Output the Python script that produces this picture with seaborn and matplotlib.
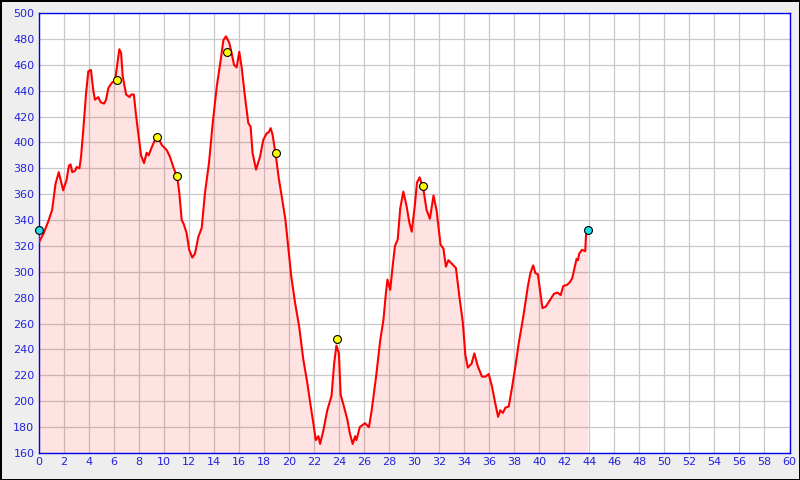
import matplotlib
matplotlib.use('Agg')
import matplotlib.pyplot as plt
import seaborn as sns
import pandas as pd
import numpy as np

# ── Data ──────────────────────────────────────────────────────────────────────
dist = [0.0, 0.05, 0.42, 0.82, 1.09, 1.36, 1.62, 1.97, 2.24, 2.43, 2.56, 2.70, 2.92, 3.05,
        3.27, 3.40, 3.58, 3.80, 3.98, 4.19, 4.38, 4.51, 4.78, 4.97, 5.24, 5.40, 5.58, 5.85,
        6.12, 6.38, 6.46, 6.60, 6.73, 7.00, 7.27, 7.40, 7.62, 7.78, 7.97, 8.19, 8.43, 8.64,
        8.80, 9.04, 9.30, 9.50, 9.85, 10.25, 10.50, 10.77, 11.09, 11.25, 11.44, 11.60, 11.83,
        12.04, 12.29, 12.50, 12.77, 13.04, 13.30, 13.62, 13.92, 14.24, 14.56, 14.77, 14.98,
        15.24, 15.43, 15.62, 15.83, 16.04, 16.23, 16.50, 16.76, 16.95, 17.10, 17.38, 17.70,
        17.96, 18.23, 18.40, 18.55, 18.70, 18.96, 19.20, 19.47, 19.73, 20.00, 20.20, 20.50,
        20.82, 21.16, 21.48, 21.75, 21.96, 22.15, 22.36, 22.50, 22.75, 23.07, 23.41, 23.62,
        23.80, 24.00, 24.14, 24.40, 24.67, 24.88, 25.10, 25.30, 25.40, 25.67, 26.08, 26.40,
        26.62, 26.97, 27.30, 27.56, 27.75, 27.88, 28.10, 28.30, 28.48, 28.70, 28.90, 29.15,
        29.42, 29.63, 29.82, 30.05, 30.24, 30.45, 30.75, 31.00, 31.27, 31.56, 31.81, 32.12,
        32.35, 32.55, 32.75, 33.05, 33.35, 33.65, 33.90, 34.10, 34.30, 34.60, 34.82, 35.10,
        35.43, 35.70, 35.97, 36.24, 36.50, 36.72, 36.90, 37.10, 37.30, 37.57, 37.84, 38.10,
        38.37, 38.64, 38.90, 39.10, 39.30, 39.52, 39.70, 39.90, 40.07, 40.26, 40.52, 40.79,
        41.18, 41.46, 41.72, 41.92, 42.24, 42.45, 42.64, 42.83, 42.99, 43.10, 43.20, 43.42,
        43.68, 43.74, 43.87]
elev = [332, 323, 330, 340, 348, 368, 377, 363, 371, 382, 383, 377, 378, 381,
        380, 389, 410, 438, 455, 456, 440, 433, 435, 431, 430, 433, 442, 446,
        448, 466, 472, 469, 451, 437, 435, 437, 437, 422, 407, 390, 384, 392,
        390, 396, 402, 405, 398, 394, 389, 381, 373, 361, 340, 337, 330,
        317, 311, 314, 327, 334, 361, 384, 415, 443, 464, 479, 482,
        477, 469, 460, 458, 470, 458, 435, 415, 412, 392, 379, 389,
        402, 407, 408, 411, 406, 390, 372, 356, 340, 315, 296, 276,
        258, 232, 214, 196, 183, 170, 173, 167, 177, 193, 204, 229,
        243, 237, 205, 196, 186, 175, 167, 173, 170, 180, 183, 180,
        193, 219, 247, 263, 283, 294, 286, 305, 320, 325, 349, 362,
        350, 338, 331, 350, 369, 373, 364, 348, 341, 359, 347, 321,
        318, 304, 309, 306, 303, 279, 261, 236, 226, 229, 237, 227,
        219, 219, 221, 211, 198, 188, 193, 191, 195, 196, 211, 227,
        245, 260, 276, 289, 299, 305, 299, 298, 286, 272, 273, 277,
        283, 284, 282, 289, 290, 292, 295, 303, 310, 309, 314, 317,
        316, 328, 332]

# waypoints (yellow) and start / finish (cyan)
wp_x = [6.30, 9.50, 11.09, 15.08, 18.96, 23.86, 30.75]
wp_y = [448, 404, 374, 470, 391.6, 247.8, 366.3]
end_x = [0.0, 43.87]
end_y = [332, 332]

df = pd.DataFrame({'dist': dist, 'elev': elev})

# ── Plot ──────────────────────────────────────────────────────────────────────
sns.set_style('white')
blue = '#2222dd'

fig = plt.figure(figsize=(8, 4.8), dpi=100, facecolor='#eeeeee',
                 edgecolor='black', linewidth=1.0)
ax = fig.add_axes([38.5 / 800, 27 / 480, 751 / 800, 440 / 480])
ax.set_facecolor('white')

ax.set_xlim(0, 60)
ax.set_ylim(160, 500)
ax.set_xticks(np.arange(0, 61, 2))
ax.set_yticks(np.arange(160, 501, 20))
ax.grid(True, color='#c8c8c8', linewidth=0.9)
ax.set_axisbelow(True)

ax.fill_between(df['dist'], df['elev'], 160, color='red', alpha=0.11,
                linewidth=0, zorder=2)
sns.lineplot(data=df, x='dist', y='elev', color='red', linewidth=1.5,
             sort=False, ax=ax, zorder=3)
sns.scatterplot(x=wp_x, y=wp_y, color='#ffff00', edgecolor='black',
                linewidth=0.8, s=32, ax=ax, zorder=4)
sns.scatterplot(x=end_x, y=end_y, color='#22ddee', edgecolor='black',
                linewidth=0.8, s=32, ax=ax, zorder=4, clip_on=False)

ax.set_xlabel('')
ax.set_ylabel('')
for sp in ax.spines.values():
    sp.set_color('#0000ee')
    sp.set_linewidth(1.0)
ax.tick_params(direction='in', length=4, width=1, color='#0000ee',
               labelcolor=blue, labelsize=8, pad=3)

plt.savefig('out.png', dpi=100, facecolor=fig.get_facecolor(),
            edgecolor=fig.get_edgecolor())
